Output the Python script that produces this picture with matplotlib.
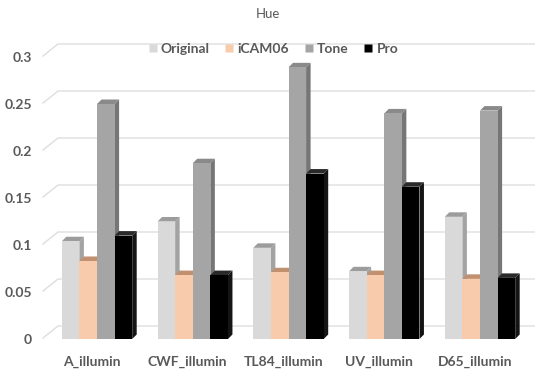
import matplotlib.pyplot as plt
import numpy as np
from matplotlib.patches import Polygon
from matplotlib.lines import Line2D
import matplotlib.transforms as mtransforms

plt.rcParams['font.family'] = ['Lato', 'DejaVu Sans']

# data
categories = ['A_illumin', 'CWF_illumin', 'TL84_illumin', 'UV_illumin', 'D65_illumin']
series = ['Original', 'iCAM06', 'Tone', 'Pro']
original = [0.104, 0.125, 0.097, 0.072, 0.130]
icam06 = [0.083, 0.068, 0.071, 0.068, 0.064]
tone = [0.250, 0.187, 0.289, 0.240, 0.243]
pro = [0.110, 0.068, 0.176, 0.162, 0.065]
yticks = [0, 0.05, 0.1, 0.15, 0.2, 0.25, 0.3]
ytick_labels = ['0', '0.05', '0.1', '0.15', '0.2', '0.25', '0.3']

values = [original, icam06, tone, pro]
front_colors = ['#d9d9d9', '#f8cbad', '#a5a5a5', '#000000']
side_colors = ['#a3a3a3', '#c99a7d', '#767676', '#151515']
top_colors = ['#9c9c9c', '#c0906f', '#8a8a8a', '#2a2a2a']

W, H = 535, 371
fig = plt.figure(figsize=(W / 100, H / 100), dpi=100)

# axes geometry (pixels)
ax_left, ax_bottom = 40, 32
ax_w = W - ax_left
ymax = 0.33
px_per_unit_y = 940
ax_h = ymax * px_per_unit_y
ax = fig.add_axes([ax_left / W, ax_bottom / H, ax_w / W, ax_h / H])

px_per_cat = 95.75
first_center = 97
xlim = ((ax_left - first_center) / px_per_cat, (W - first_center) / px_per_cat)
ax.set_xlim(*xlim)
ax.set_ylim(0, ymax)

# pixel -> data helpers
dxp = 1 / px_per_cat
dyp = 1 / px_per_unit_y

# back-wall gridlines with perspective diagonal
for v in yticks:
    x_front = xlim[0] + 3 * dxp
    x_back = xlim[0] + 18 * dxp
    y_back = v + 13 * dyp
    ax.plot([x_front, x_back, xlim[1]], [v + 1 * dyp, y_back, y_back],
            color='#dedede', lw=1.0, zorder=0, clip_on=False)

# 3D-ish bars
bar_w = 17.6 * dxp
depth_x = 4.5 * dxp
depth_y = 4.5 * dyp
n = len(series)
x = np.arange(len(categories))
for i in range(len(categories)):
    for s in range(n):
        h = values[s][i]
        x0 = x[i] + (s - n / 2) * bar_w
        x1 = x0 + bar_w
        side = Polygon([(x1, 0), (x1, h), (x1 + depth_x, h + depth_y), (x1 + depth_x, depth_y)],
                       closed=True, facecolor=side_colors[s], edgecolor='none', zorder=2 + i * 10 + s * 2)
        top = Polygon([(x0, h), (x1, h), (x1 + depth_x, h + depth_y), (x0 + depth_x, h + depth_y)],
                      closed=True, facecolor=top_colors[s], edgecolor='none', zorder=2 + i * 10 + s * 2)
        ax.add_patch(side)
        ax.add_patch(top)
        ax.bar(x0, h, width=bar_w, align='edge', color=front_colors[s], zorder=3 + i * 10 + s * 2)

# ticks
ax.set_yticks(yticks)
ax.set_yticklabels(ytick_labels)
ax.set_xticks(x)
ax.set_xticklabels(categories)
ax.tick_params(axis='both', length=0, labelsize=10, labelcolor='#595959')
ax.tick_params(axis='y', pad=6)
ax.tick_params(axis='x', pad=12)
for lbl in ax.get_xticklabels() + ax.get_yticklabels():
    lbl.set_fontweight('bold')
shift = mtransforms.ScaledTranslation(-5 / 100, 0, fig.dpi_scale_trans)
for lbl in ax.get_xticklabels():
    lbl.set_transform(lbl.get_transform() + shift)
for sp in ax.spines.values():
    sp.set_visible(False)
ax.patch.set_visible(False)

# title and legend
fig.text(268 / W, 1 - 14 / H, 'Hue', ha='center', va='center', fontsize=9.5, color='#595959')
handles = [Line2D([], [], marker='s', ls='none', markersize=6, markerfacecolor=c, markeredgecolor='none')
           for c in front_colors]
leg = fig.legend(handles, series, loc='center', bbox_to_anchor=(272 / W, 1 - 49 / H), ncol=4,
                 frameon=False, handletextpad=0.1, columnspacing=0.9, handlelength=1.0,
                 prop={'size': 10, 'weight': 'bold'})
for t in leg.get_texts():
    t.set_color('#595959')

fig.savefig('out.png', dpi=100)
